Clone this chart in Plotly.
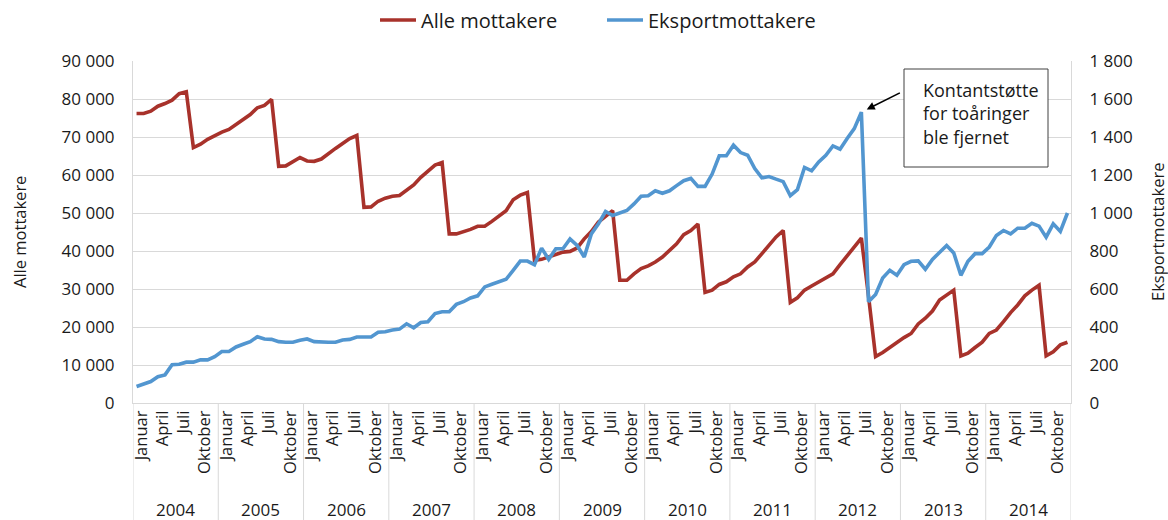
import plotly.graph_objects as go

years = [2004, 2005, 2006, 2007, 2008, 2009, 2010, 2011, 2012, 2013, 2014]
month_names = ["Januar", "Februar", "Mars", "April", "Mai", "Juni", "Juli",
               "August", "September", "Oktober", "November", "Desember"]
shown_months = ["Januar", "April", "Juli", "Oktober"]

alle_mottakere = [
    76200, 76200, 76800, 78100, 78800, 79700, 81400, 81900, 67200, 68100, 69400, 70400,  # 2004
    71300, 72000, 73300, 74800, 75900, 77700, 78300, 79900, 62300, 62400, 63600, 64600,  # 2005
    63700, 63600, 64200, 65700, 67000, 68300, 69600, 70400, 51500, 51600, 53100, 53900,  # 2006
    54400, 54600, 56000, 57400, 59400, 61100, 62600, 63300, 44500, 44500, 45000, 45700,  # 2007
    46500, 46500, 47800, 49100, 50600, 53500, 54700, 55400, 37500, 37800, 38400, 39100,  # 2008
    39700, 39900, 40800, 43200, 45100, 47600, 49200, 50600, 32300, 32300, 34000, 35400,  # 2009
    36100, 37100, 38400, 40200, 41900, 44300, 45400, 47100, 29100, 29700, 31200, 31900,  # 2010
    33200, 34000, 35800, 37100, 39300, 41500, 43700, 45400, 26500, 27700, 29700, 30800,  # 2011
    31900, 32900, 34000, 36400, 38800, 41300, 43400, 28200, 12200, 13300, 14600, 16000,  # 2012
    17200, 18300, 20800, 22300, 24200, 27100, 28500, 29700, 12400, 13100, 14600, 16000,  # 2013
    18300, 19200, 21400, 23800, 25800, 28200, 29700, 31000, 12400, 13500, 15300, 16000,  # 2014
]

eksportmottakere = [
    87, 100, 113, 138, 148, 201, 204, 215, 215, 227, 227, 244,          # 2004
    271, 271, 295, 309, 323, 349, 337, 335, 323, 320, 320, 330,         # 2005
    337, 323, 320, 320, 320, 332, 335, 347, 347, 347, 372, 375,         # 2006
    384, 389, 417, 396, 424, 428, 471, 480, 480, 519, 533, 553,         # 2007
    564, 611, 625, 637, 651, 698, 747, 747, 728, 815, 756, 812,         # 2008
    812, 864, 829, 768, 890, 943, 1008, 987, 1000, 1013, 1048, 1088,    # 2009
    1091, 1117, 1104, 1117, 1144, 1170, 1182, 1140, 1140, 1205, 1301, 1301,  # 2010
    1357, 1318, 1304, 1234, 1185, 1192, 1178, 1165, 1091, 1123, 1240, 1222,  # 2011
    1269, 1304, 1353, 1336, 1392, 1444, 1531, 533, 571, 658, 698, 672,  # 2012
    728, 746, 748, 704, 756, 795, 829, 790, 672, 746, 786, 786,         # 2013
    821, 882, 908, 890, 920, 920, 946, 931, 873, 943, 903, 1000,        # 2014
]

annotation_text = "Kontantstøtte<br>for toåringer<br>ble fjernet"

RED = "#A8322B"
BLUE = "#5296D0"
GRID = "#D9D9D9"
TXT = "#1a1a1a"
FONT = "Open Sans"

n = len(alle_mottakere)
x_idx = list(range(n))
hover_labels = [f"{month_names[i % 12]} {years[i // 12]}" for i in x_idx]

fig = go.Figure()
fig.add_trace(go.Scatter(x=x_idx, y=alle_mottakere, name="Alle mottakere", mode="lines",
                         line=dict(color=RED, width=3.6), text=hover_labels, yaxis="y",
                         legend="legend"))
fig.add_trace(go.Scatter(x=x_idx, y=eksportmottakere, name="Eksportmottakere", mode="lines",
                         line=dict(color=BLUE, width=3.6), text=hover_labels, yaxis="y2",
                         legend="legend2"))

LABEL_SHIFT = 0.65  # visual offset of the rotated month labels
tickvals, ticktext = [], []
for yi, yr in enumerate(years):
    for m in shown_months:
        tickvals.append(yi * 12 + month_names.index(m) + LABEL_SHIFT)
        ticktext.append(m)

W, H = 1168, 520
PL, PR, PT, PB = 133, 1071, 61, 403   # plot area in screen pixels
L, T = PL, PT
pw, ph = PR - PL, PB - PT
R, B = W - L - pw, H - T - ph

def px_x(p):
    return (p - PL) / pw

def px_y(p):
    return (PB - p) / ph

shapes = []
for yi in range(len(years) + 1):
    shapes.append(dict(type="line", xref="x", yref="paper", x0=yi * 12 - 0.5, x1=yi * 12 - 0.5,
                       y0=0, y1=px_y(521), line=dict(color=GRID, width=1), layer="below"))
# annotation box
shapes.append(dict(type="rect", xref="paper", yref="paper", x0=px_x(904), x1=px_x(1048),
                   y0=px_y(167), y1=px_y(69), line=dict(color="#404040", width=1),
                   fillcolor="white"))

annotations = []
for yi, yr in enumerate(years):
    annotations.append(dict(x=yi * 12 + 5.5, xref="x", y=px_y(509), yref="paper", text=str(yr),
                            xanchor="center", yanchor="middle", showarrow=False,
                            font=dict(family=FONT, size=17, color=TXT)))
annotations.append(dict(x=px_x(19), y=0.5, xref="paper", yref="paper", text="Alle mottakere",
                        xanchor="center", yanchor="middle", textangle=-90, showarrow=False,
                        font=dict(family=FONT, size=16.5, color=TXT)))
annotations.append(dict(x=px_x(1157), y=0.5, xref="paper", yref="paper", text="Eksportmottakere",
                        xanchor="center", yanchor="middle", textangle=-90, showarrow=False,
                        font=dict(family=FONT, size=16.5, color=TXT)))
annotations.append(dict(x=px_x(921), y=px_y(114), xref="paper", yref="paper", text=annotation_text,
                        xanchor="left", yanchor="middle", align="left", showarrow=False,
                        font=dict(family=FONT, size=18, color=TXT)))
peak_i = eksportmottakere.index(max(eksportmottakere))
annotations.append(dict(x=peak_i, y=eksportmottakere[peak_i], xref="x", yref="y2", text="",
                        showarrow=True, arrowhead=2, arrowsize=1, arrowwidth=1.6, arrowcolor="black",
                        ax=40, ay=-20, standoff=6))

legend_style = dict(orientation="h", xanchor="left", y=px_y(20), yanchor="middle",
                    font=dict(family=FONT, size=20, color=TXT), itemwidth=36,
                    bgcolor="rgba(0,0,0,0)")

fig.update_layout(
    width=W, height=H,
    margin=dict(l=L, r=R, t=T, b=B, autoexpand=False),
    paper_bgcolor="white", plot_bgcolor="white",
    separators=", ",
    font=dict(family=FONT, size=17, color=TXT),
    showlegend=True,
    legend=dict(x=px_x(375), **legend_style),
    legend2=dict(x=px_x(602), **legend_style),
    xaxis=dict(range=[-0.5, n - 0.5], tickvals=tickvals, ticktext=ticktext, tickangle=-90,
               showgrid=False, zeroline=False, showline=True, linecolor=GRID, linewidth=1,
               ticks="", tickfont=dict(family=FONT, size=16.5, color=TXT), automargin=False),
    yaxis=dict(range=[0, 90000], dtick=10000, tickformat=",d", showgrid=True, gridcolor=GRID,
               gridwidth=1, zeroline=False, showline=True, linecolor=GRID, ticks="",
               ticklabelstandoff=14, tickfont=dict(family=FONT, size=17, color=TXT),
               automargin=False),
    yaxis2=dict(range=[0, 1800], dtick=200, tickformat=",d", overlaying="y", side="right",
                showgrid=False, zeroline=False, showline=True, linecolor=GRID, ticks="",
                ticklabelstandoff=14, tickfont=dict(family=FONT, size=17, color=TXT),
                automargin=False),
    shapes=shapes,
    annotations=annotations,
)

# remove the default 8px page margin so the 1168x520 figure fills the window exactly
fig.write_html("out.html", config={"displayModeBar": False},
               post_script="document.body.style.margin='0';document.body.style.overflow='hidden';")
